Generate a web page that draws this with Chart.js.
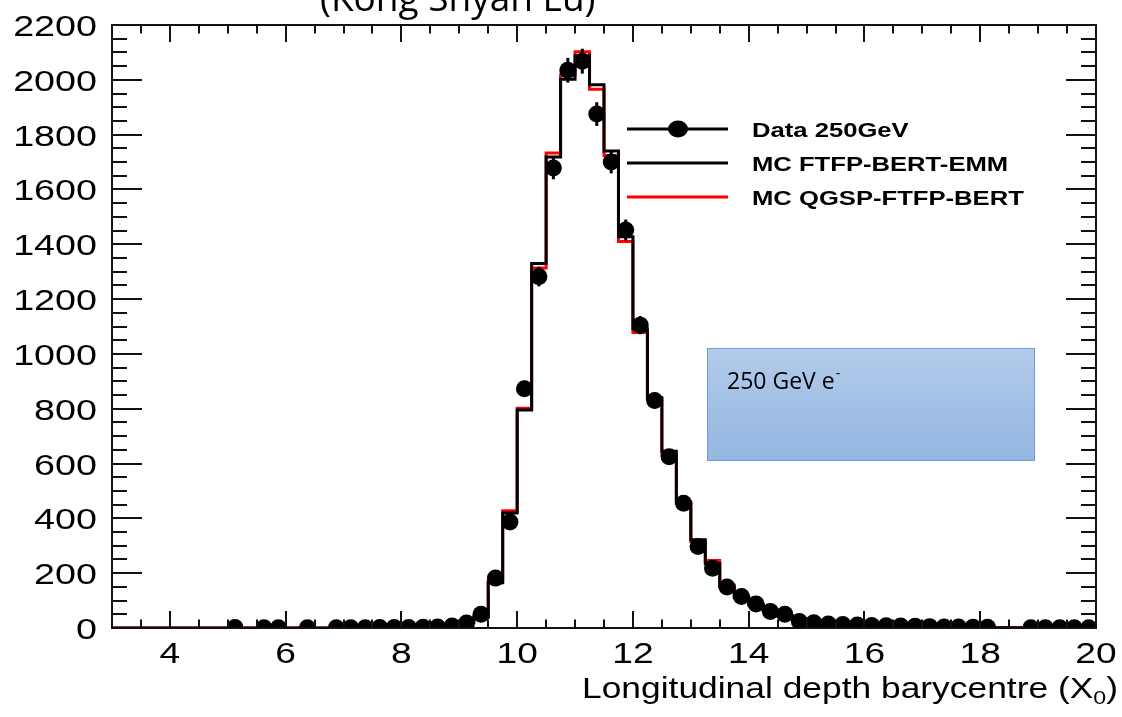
<!DOCTYPE html>
<html>
<head>
<meta charset="utf-8">
<script src="https://cdn.jsdelivr.net/npm/chart.js@4.4.0/dist/chart.umd.min.js"></script>
<style>
  html, body { margin: 0; padding: 0; background: #fff; }
  #wrap { width: 1122px; height: 717px; }
</style>
</head>
<body>
<div id="wrap"><canvas id="chart" width="1122" height="717"></canvas></div>
<script>
// binning of the histogram (x axis, X0 units)
var xMin = 3, xMax = 20, binWidth = 0.25;

// counts per bin, 68 bins from 3.0 to 20.0 (null = empty bin, no marker)
var dataCounts = [
  null, null, null, null, null, null, null, null,
  2, null, 1, 1, null, 1, null, 1,
  1, 1, 2, 2, 2, 3, 4, 7,
  18, 50, 182, 387, 873, 1282, 1678, 2035,
  2068, 1875, 1700, 1452, 1105, 830, 625, 455,
  297, 218, 150, 115, 88, 60, 50, 24,
  19, 15, 13, 11, 9, 8, 7, 6,
  5, 4, 4, 3, 3, null, null, 1,
  1, 1, 1, 1
];
var mcFtfpBertEmm = [
  0, 0, 0, 0, 0, 0, 0, 0,
  0, 0, 0, 0, 0, 0, 0, 1,
  1, 1, 1, 2, 2, 3, 4, 8,
  20, 38, 165, 420, 795, 1330, 1718, 2002,
  2088, 1982, 1740, 1427, 1092, 840, 645, 455,
  322, 235, 150, 112, 85, 62, 45, 33,
  24, 17, 13, 10, 8, 6, 5, 4,
  3, 3, 2, 2, 2, 1, 1, 1,
  1, 0, 0, 0
];
var mcQgspFtfpBert = [
  0, 0, 0, 0, 0, 0, 0, 0,
  0, 0, 0, 0, 0, 1, 0, 1,
  1, 1, 2, 2, 2, 3, 5, 9,
  22, 42, 172, 428, 802, 1313, 1733, 2018,
  2102, 1966, 1724, 1410, 1078, 834, 632, 460,
  316, 246, 156, 116, 88, 64, 46, 34,
  25, 17, 13, 10, 8, 6, 5, 4,
  3, 3, 2, 2, 2, 1, 1, 1,
  1, 1, 0, 0
];

var xTicks = [4, 6, 8, 10, 12, 14, 16, 18, 20];
var yTicks = [0, 200, 400, 600, 800, 1000, 1200, 1400, 1600, 1800, 2000, 2200];
var seriesNames = ['Data 250GeV', 'MC FTFP-BERT-EMM', 'MC QGSP-FTFP-BERT'];

function binCenter(i) { return xMin + (i + 0.5) * binWidth; }

function histPoints(vals) {
  var pts = vals.map(function (v, i) { return { x: xMin + i * binWidth, y: v }; });
  pts.push({ x: xMax, y: vals[vals.length - 1] });
  return pts;
}

var dataPoints = dataCounts.map(function (v, i) { return { x: binCenter(i), y: v }; });

// draw text stretched horizontally like the pasted ROOT picture
function wideText(ctx, text, x, y, sx, align) {
  ctx.save();
  ctx.translate(x, y);
  ctx.scale(sx, 1);
  ctx.textAlign = align;
  ctx.fillText(text, 0, 0);
  ctx.restore();
}

var rootStyle = {
  id: 'rootStyle',
  afterDatasetsDraw: function (chart) {
    var ctx = chart.ctx, xs = chart.scales.x, ys = chart.scales.y;
    ctx.save();
    ctx.strokeStyle = '#000';
    ctx.lineWidth = 3;
    dataCounts.forEach(function (v, i) {
      if (v === null) return;
      var px = xs.getPixelForValue(binCenter(i));
      var err = Math.sqrt(v);
      ctx.beginPath();
      ctx.moveTo(px, ys.getPixelForValue(v - err));
      ctx.lineTo(px, ys.getPixelForValue(v + err));
      ctx.stroke();
    });
    ctx.restore();
  },
  afterDraw: function (chart) {
    var ctx = chart.ctx, xs = chart.scales.x, ys = chart.scales.y;
    var a = chart.chartArea;
    ctx.save();

    // frame
    ctx.strokeStyle = '#111';
    ctx.lineWidth = 2;
    ctx.strokeRect(a.left, a.top, a.right - a.left, a.bottom - a.top);

    // ticks on all four sides, pointing inwards
    ctx.beginPath();
    for (var t = 3.5; t < xMax; t += 0.5) {
      var px = Math.round(xs.getPixelForValue(t));
      var len = (t % 2 === 0) ? 17 : 8.5;
      ctx.moveTo(px, a.bottom); ctx.lineTo(px, a.bottom - len);
      ctx.moveTo(px, a.top); ctx.lineTo(px, a.top + len);
    }
    for (var v = 50; v < 2200; v += 50) {
      var py = Math.round(ys.getPixelForValue(v));
      var l = (v % 200 === 0) ? 30 : 15;
      ctx.moveTo(a.left, py); ctx.lineTo(a.left + l, py);
      ctx.moveTo(a.right, py); ctx.lineTo(a.right - l, py);
    }
    ctx.stroke();

    // tick labels
    ctx.fillStyle = '#000';
    ctx.font = '29px "Liberation Sans", Arial, sans-serif';
    ctx.textBaseline = 'alphabetic';
    xTicks.forEach(function (t) {
      wideText(ctx, String(t), xs.getPixelForValue(t), a.bottom + 35, 1.28, 'center');
    });
    yTicks.forEach(function (t) {
      wideText(ctx, String(t), a.left - 15, ys.getPixelForValue(t) + 11, 1.3, 'right');
    });

    // x axis title with subscript
    var main = 'Longitudinal depth barycentre (X';
    ctx.font = '29px "Liberation Sans", Arial, sans-serif';
    var w1 = ctx.measureText(main).width;
    var w3 = ctx.measureText(')').width;
    ctx.font = '19px "Liberation Sans", Arial, sans-serif';
    var w2 = ctx.measureText('0').width;
    var sx = (1118 - 582) / (w1 + w2 + w3);
    ctx.save();
    ctx.translate(582, 698);
    ctx.scale(sx, 1);
    ctx.textAlign = 'left';
    ctx.font = '29px "Liberation Sans", Arial, sans-serif';
    ctx.fillText(main, 0, 0);
    ctx.font = '19px "Liberation Sans", Arial, sans-serif';
    ctx.fillText('0', w1, 6);
    ctx.font = '29px "Liberation Sans", Arial, sans-serif';
    ctx.fillText(')', w1 + w2, 0);
    ctx.restore();

    // legend
    var rows = [129, 163, 197];
    ctx.lineWidth = 3;
    ctx.strokeStyle = '#000';
    ctx.beginPath(); ctx.moveTo(627, rows[0]); ctx.lineTo(728, rows[0]); ctx.stroke();
    ctx.beginPath(); ctx.ellipse(678, rows[0], 10, 8.5, 0, 0, Math.PI * 2); ctx.fill();
    ctx.beginPath(); ctx.moveTo(627, rows[1]); ctx.lineTo(728, rows[1]); ctx.stroke();
    ctx.strokeStyle = '#ff0000';
    ctx.beginPath(); ctx.moveTo(627, rows[2]); ctx.lineTo(728, rows[2]); ctx.stroke();
    ctx.font = 'bold 21px "Liberation Sans", Arial, sans-serif';
    seriesNames.forEach(function (name, i) {
      wideText(ctx, name, 752, rows[i] + 8, 1.22, 'left');
    });

    // annotation box
    var g = ctx.createLinearGradient(0, 348, 0, 461);
    g.addColorStop(0, '#b2cbea');
    g.addColorStop(1, '#94b6e2');
    ctx.fillStyle = g;
    ctx.fillRect(707, 348, 328, 113);
    ctx.strokeStyle = '#6d9dd4';
    ctx.lineWidth = 1;
    ctx.strokeRect(707.5, 348.5, 327, 112);
    ctx.fillStyle = '#000';
    ctx.font = '23px "Open Sans", sans-serif';
    ctx.textAlign = 'left';
    ctx.fillText('250 GeV e', 727, 389);
    var we = ctx.measureText('250 GeV e').width;
    ctx.font = '14px "Open Sans", sans-serif';
    ctx.fillText('-', 727 + we + 1, 378);

    // author line at the top (cut off by the picture edge)
    ctx.font = '37px "Open Sans", sans-serif';
    ctx.fillText('(Kong Shyan Lu)', 320, 11);

    ctx.restore();
  }
};

var chart = new Chart(document.getElementById('chart').getContext('2d'), {
  type: 'scatter',
  data: {
    datasets: [
      {
        label: seriesNames[0],
        data: dataPoints,
        showLine: false,
        pointRadius: 8.5,
        pointBackgroundColor: '#000',
        pointBorderWidth: 0,
        order: 0
      },
      {
        label: seriesNames[1],
        type: 'line',
        data: histPoints(mcFtfpBertEmm),
        stepped: 'before',
        borderColor: '#000',
        borderWidth: 3,
        pointRadius: 0,
        fill: false,
        order: 1
      },
      {
        label: seriesNames[2],
        type: 'line',
        data: histPoints(mcQgspFtfpBert),
        stepped: 'before',
        borderColor: '#ff0000',
        borderWidth: 3,
        pointRadius: 0,
        fill: false,
        order: 2
      }
    ]
  },
  options: {
    responsive: false,
    animation: false,
    devicePixelRatio: 1,
    layout: { padding: { left: 112, right: 26, top: 25, bottom: 89 } },
    scales: {
      x: { type: 'linear', min: xMin, max: xMax, display: false },
      y: { type: 'linear', min: 0, max: 2200, display: false }
    },
    plugins: {
      legend: { display: false },
      tooltip: { enabled: false }
    }
  },
  plugins: [rootStyle]
});
</script>
</body>
</html>
